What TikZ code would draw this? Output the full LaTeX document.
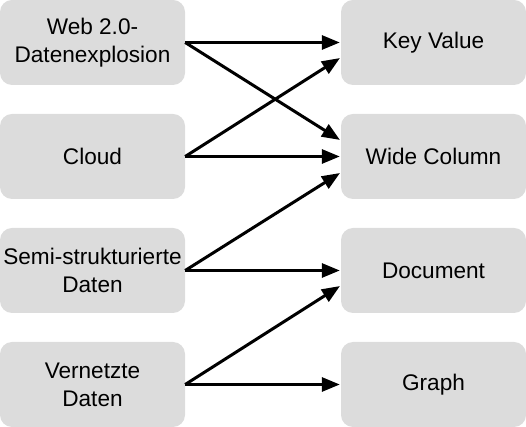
\documentclass[tikz,border=0pt]{standalone}
\usepackage{fontspec}
\setmainfont{Liberation Sans}
\usepackage{xcolor}
\usepackage{tikz}
\usetikzlibrary{arrows.meta,positioning}

\definecolor{boxgray}{RGB}{220,220,220}

\tikzset{
  srcbox/.style={fill=boxgray, rounded corners=12pt, minimum width=185pt, minimum height=85pt,
    inner sep=0pt, align=center, font=\fontsize{22.6}{28}\selectfont},
  dbbox/.style={srcbox},
  flow/.style={-{Triangle[length=18pt,width=14pt]}, line width=3pt, shorten >=1pt}
}

\begin{document}
\begin{tikzpicture}[x=1pt,y=1pt]
\useasboundingbox (0,0) rectangle (526,427);
% left column: drivers
\node[srcbox] (web)   at (92.5,384.5) {Web 2.0-\\Datenexplosion};
\node[srcbox] (cloud) at (92.5,270.5) {Cloud};
\node[srcbox] (semi)  at (92.5,156.5) {Semi-strukturierte\\Daten};
\node[srcbox] (netz)  at (92.5,42.5)  {Vernetzte\\Daten};
% right column: NoSQL types
\node[dbbox] (kv)    at (433.5,384.5) {Key Value};
\node[dbbox] (wide)  at (433.5,270.5) {Wide Column};
\node[dbbox] (doc)   at (433.5,156.5) {Document};
\node[dbbox] (graph) at (433.5,42.5)  {Graph};
% arrows
\draw[flow] (web.east) -- (kv.west);
\draw[flow] (web.east) -- ([yshift=16pt]wide.west);
\draw[flow] (cloud.east) -- ([yshift=-15pt]kv.west);
\draw[flow] (cloud.east) -- (wide.west);
\draw[flow] (semi.east) -- ([yshift=-16pt]wide.west);
\draw[flow] (semi.east) -- (doc.west);
\draw[flow] (netz.east) -- ([yshift=-15pt]doc.west);
\draw[flow] (netz.east) -- (graph.west);
\end{tikzpicture}
\end{document}
